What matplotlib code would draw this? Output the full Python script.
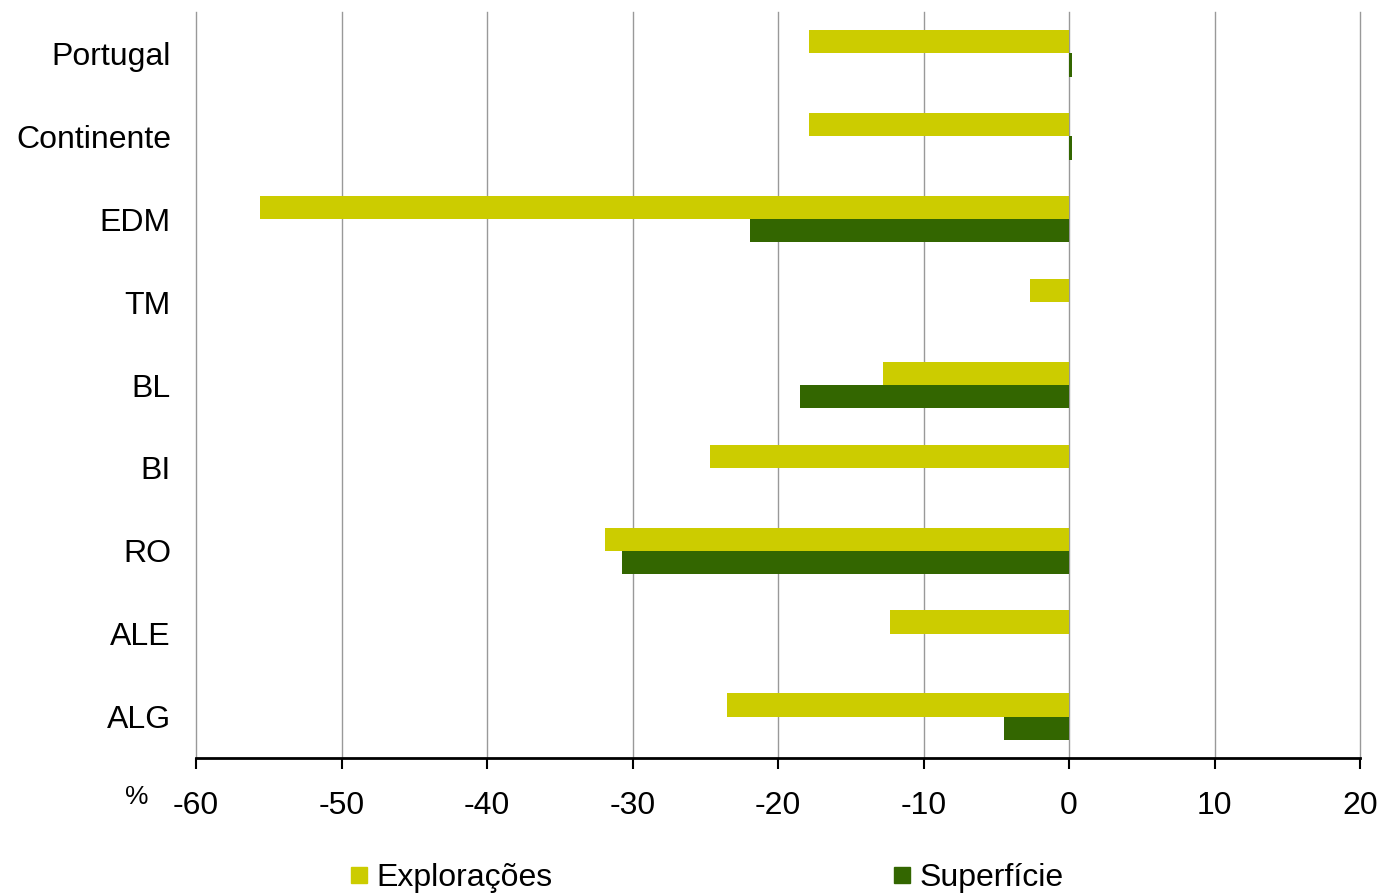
import numpy as np
import matplotlib.pyplot as plt
from matplotlib.lines import Line2D

plt.rcParams['font.family'] = ['Liberation Sans', 'DejaVu Sans']
plt.rcParams['axes.unicode_minus'] = False

# data (% change)
regions = ['Portugal', 'Continente', 'EDM', 'TM', 'BL', 'BI', 'RO', 'ALE', 'ALG']
exploracoes = [-17.9, -17.9, -55.6, -2.7, -12.8, -24.7, -31.9, -12.3, -23.5]
superficie = [0.2, 0.2, -21.9, 0.0, -18.5, 0.0, -30.7, 0.0, -4.5]
xticks = np.arange(-60, 21, 10)

col_expl = '#cccc00'
col_sup = '#336600'

fig = plt.figure(figsize=(13.82, 8.96), dpi=100)
ax = fig.add_axes([196 / 1382, 1 - 758 / 896, 1164 / 1382, 746 / 896])

y = np.arange(len(regions))
h = 0.28
ax.barh(y - h / 2, exploracoes, height=h, color=col_expl, zorder=3)
ax.barh(y + h / 2, superficie, height=h, color=col_sup, zorder=3)

ax.set_ylim(len(regions) - 0.5, -0.5)
ax.set_yticks(y)
ax.set_yticklabels(regions, fontsize=23)
ax.tick_params(axis='y', length=0, pad=18)

ax.set_xlim(-60, 20)
ax.set_xticks(xticks)
ax.tick_params(axis='x', labelsize=23, length=8, width=1.5, pad=16, direction='out')
for xv in xticks:
    ax.axvline(xv, color='#999999', linewidth=1, zorder=0, clip_on=False)

for s in ['top', 'right', 'left']:
    ax.spines[s].set_visible(False)
ax.spines['bottom'].set_linewidth(2)
ax.spines['bottom'].set_zorder(4)

fig.text(137 / 1382, 1 - 797 / 896, '%', fontsize=19, ha='center', va='center')

handles = [Line2D([], [], marker='s', linestyle='none', markersize=12, color=col_expl),
           Line2D([], [], marker='s', linestyle='none', markersize=12, color=col_sup)]
fig.legend(handles, ['Explorações', 'Superfície'], loc='center',
           bbox_to_anchor=(704 / 1382, 1 - 878 / 896), ncol=2, frameon=False,
           fontsize=23, columnspacing=10.5, handletextpad=0.1, handlelength=0.9)

fig.savefig('out.png', dpi=100)
